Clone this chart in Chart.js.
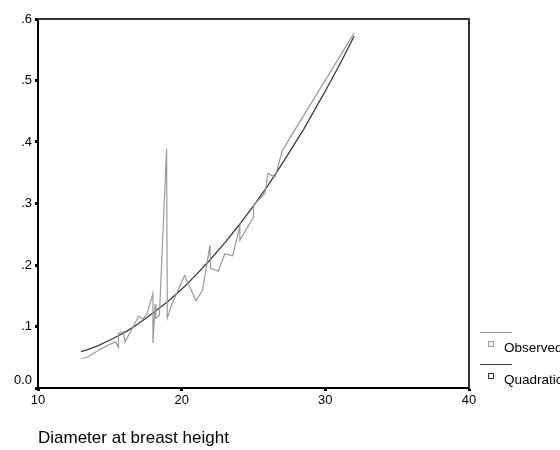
<!DOCTYPE html>
<html>
<head>
<meta charset="utf-8">
<script src="https://cdn.jsdelivr.net/npm/chart.js@4"></script>
<style>
  html, body { margin: 0; padding: 0; background: #fff; }
  #wrap { width: 560px; height: 450px; }
</style>
</head>
<body>
<div id="wrap"><canvas id="myChart" width="560" height="450"></canvas></div>
<script>
//---- Datos ----
const obsX = [13.0, 13.4, 14.2, 15.0, 15.4, 15.6, 15.6, 15.95, 16.05, 16.5, 17.0, 17.3, 17.6, 18.0, 18.0, 18.15, 18.2, 18.45, 18.95, 19.0, 19.3, 20.2, 21.0, 21.45, 21.97, 22.0, 22.55, 23.0, 23.55, 24.05, 24.05, 25.0, 25.0, 25.8, 26.0, 26.5, 27.0, 32.0];
const obsY = [0.048, 0.050, 0.061, 0.071, 0.075, 0.066, 0.089, 0.091, 0.075, 0.094, 0.117, 0.112, 0.121, 0.154, 0.073, 0.136, 0.113, 0.118, 0.389, 0.114, 0.135, 0.183, 0.142, 0.159, 0.232, 0.195, 0.190, 0.218, 0.215, 0.263, 0.240, 0.278, 0.297, 0.317, 0.349, 0.343, 0.386, 0.577];

const quadX = [13.0, 13.4, 14.2, 15.0, 15.6, 16.0, 16.5, 17.0, 17.6, 18.0, 18.45, 19.0, 19.3, 20.2, 21.0, 22.0, 23.0, 24.0, 25.0, 26.0, 27.0, 28.5, 30.0, 31.0, 32.0];
const quadY = [0.059, 0.062, 0.069, 0.078, 0.085, 0.090, 0.097, 0.105, 0.115, 0.122, 0.130, 0.140, 0.146, 0.165, 0.184, 0.209, 0.236, 0.265, 0.296, 0.329, 0.365, 0.421, 0.483, 0.526, 0.572];

const seriesNames = ["Observed", "Quadratic"];
const xTicks = [10, 20, 30, 40];
const yTicks = [0, 0.1, 0.2, 0.3, 0.4, 0.5, 0.6];
const xTitle = "Diameter at breast height";

const toPoints = (xs, ys) => xs.map((x, i) => ({ x: x, y: ys[i] }));

const FONT = "Arial, 'Liberation Sans', sans-serif";

// marco superior y derecho del area del grafico
const framePlugin = {
  id: "frame",
  afterDraw(chart) {
    const { ctx, chartArea: a } = chart;
    ctx.save();
    ctx.strokeStyle = "#333";
    ctx.lineWidth = 2;
    ctx.beginPath();
    ctx.moveTo(a.left, a.top);
    ctx.lineTo(a.right, a.top);
    ctx.lineTo(a.right, a.bottom);
    ctx.stroke();
    ctx.restore();
  },
};

// leyenda al estilo SPSS: linea arriba, cuadradito y texto debajo
const legendPlugin = {
  id: "spssLegend",
  afterDraw(chart) {
    const ctx = chart.ctx;
    const a = chart.chartArea;
    ctx.save();
    chart.data.datasets.forEach((ds, i) => {
      const y0 = 332 + i * 32;
      ctx.strokeStyle = ds.borderColor;
      ctx.lineWidth = 1;
      ctx.beginPath();
      ctx.moveTo(a.right + 11, y0 + 0.5);
      ctx.lineTo(a.right + 43, y0 + 0.5);
      ctx.stroke();
      ctx.strokeRect(a.right + 19.5, y0 + 9.5, 5, 5);
      ctx.fillStyle = "#000";
      ctx.font = "13.5px " + FONT;
      ctx.textBaseline = "middle";
      ctx.textAlign = "left";
      ctx.fillText(ds.label, a.right + 35, y0 + 16);
    });
    ctx.restore();
  },
};

const chart = new Chart(document.querySelector("#myChart"), {
  type: "scatter",
  data: {
    datasets: [
      {
        label: seriesNames[0],
        data: toPoints(obsX, obsY),
        showLine: true,
        borderColor: "#9a9a9a",
        borderWidth: 1.2,
        pointRadius: 0,
        tension: 0,
      },
      {
        label: seriesNames[1],
        data: toPoints(quadX, quadY),
        showLine: true,
        borderColor: "#3a3a3a",
        borderWidth: 1.3,
        pointRadius: 0,
        tension: 0,
      },
    ],
  },
  options: {
    responsive: false,
    animation: false,
    devicePixelRatio: 1,
    layout: { padding: { top: 19, right: 91, left: 0, bottom: 0 } },
    plugins: {
      legend: { display: false },
      tooltip: { enabled: false },
    },
    scales: {
      x: {
        type: "linear",
        min: 10,
        max: 40,
        afterBuildTicks: (scale) => { scale.ticks = xTicks.map((v) => ({ value: v })); },
        afterFit: (scale) => { scale.height = 62; },
        border: { color: "#000", width: 2 },
        grid: { drawOnChartArea: false, drawTicks: true, tickLength: 3, tickWidth: 3, tickColor: "#000" },
        ticks: { color: "#000", padding: 2, font: { family: FONT, size: 13 } },
        title: {
          display: true,
          text: xTitle,
          align: "start",
          color: "#000",
          padding: { top: 0, bottom: 1 },
          font: { family: FONT, size: 17 },
        },
      },
      y: {
        type: "linear",
        min: 0,
        max: 0.6,
        afterBuildTicks: (scale) => { scale.ticks = yTicks.map((v) => ({ value: v })); },
        afterFit: (scale) => { scale.width = 38; },
        border: { color: "#000", width: 2 },
        grid: { drawOnChartArea: false, drawTicks: true, tickLength: 3, tickWidth: 3, tickColor: "#000" },
        ticks: {
          color: "#000",
          padding: 3,
          font: { family: FONT, size: 13 },
          callback: (v) => (v === 0 ? ["0.0", ""] : v.toFixed(1).replace(/^0/, "")),
        },
      },
    },
  },
  plugins: [framePlugin, legendPlugin],
});
</script>
</body>
</html>
